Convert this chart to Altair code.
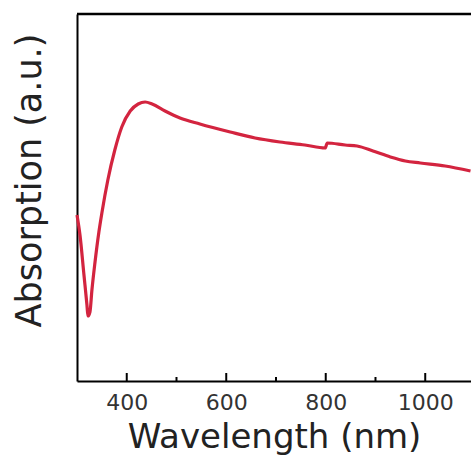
import altair as alt
import pandas as pd

wavelength = [300, 306, 314, 320, 322, 326, 330, 336, 344, 350, 362, 376, 390, 407, 423, 437, 451, 477, 507, 547, 608, 658, 708, 758, 799, 803, 839, 863, 895, 930, 960, 990, 1040, 1091]
absorption = [1.66, 1.46, 1.06, 0.76, 0.65, 0.69, 0.91, 1.18, 1.49, 1.68, 2.01, 2.31, 2.54, 2.70, 2.77, 2.79, 2.77, 2.70, 2.63, 2.57, 2.49, 2.43, 2.39, 2.36, 2.33, 2.38, 2.36, 2.35, 2.30, 2.24, 2.20, 2.18, 2.15, 2.10]
major_ticks = [400, 600, 800, 1000]
minor_ticks = [500, 700, 900]

df = pd.DataFrame({"w": wavelength, "a": absorption})
W, H = 394, 367
FONT = "DejaVu Sans"
xscale = alt.Scale(domain=[300, 1092], nice=False)
yscale = alt.Scale(domain=[0, 3.67], nice=False)

line = alt.Chart(df).mark_line(color="#d3243f", strokeWidth=3.2, interpolate="monotone").encode(
    x=alt.X("w:Q", scale=xscale,
            axis=alt.Axis(values=major_ticks, format="d", title="Wavelength (nm)", ticks=False,
                          labelFontSize=22, labelColor="#333", labelFont=FONT, labelPadding=11,
                          titleFont=FONT, titleFontSize=34, titleFontWeight="normal", titleColor="#222",
                          titlePadding=7, domainColor="black", domainWidth=2, grid=False)),
    y=alt.Y("a:Q", scale=yscale,
            axis=alt.Axis(labels=False, ticks=False, title="Absorption (a.u.)",
                          titleFont=FONT, titleFontSize=35, titleFontWeight="normal", titleColor="#222",
                          titlePadding=30, titleY=166, domainColor="black", domainWidth=2, grid=False)),
)

major = alt.Chart(pd.DataFrame({"t": major_ticks})).mark_rule(color="black", strokeWidth=2).encode(
    x=alt.X("t:Q", scale=xscale), y=alt.value(H), y2=alt.value(H - 8))
minor = alt.Chart(pd.DataFrame({"t": minor_ticks})).mark_rule(color="black", strokeWidth=2).encode(
    x=alt.X("t:Q", scale=xscale), y=alt.value(H), y2=alt.value(H - 4))
top = alt.Chart(pd.DataFrame({"t": [0]})).mark_rule(color="black", strokeWidth=2.5).encode(
    x=alt.value(0), x2=alt.value(W), y=alt.value(0))

chart = alt.layer(line, major, minor, top).properties(
    width=W, height=H,
    padding={"left": 77, "top": 14, "right": 0, "bottom": 76},
    autosize=alt.AutoSizeParams(type="none"),
).configure_view(stroke=None)

chart.save("out.html", embed_options={"renderer": "svg", "actions": False})
